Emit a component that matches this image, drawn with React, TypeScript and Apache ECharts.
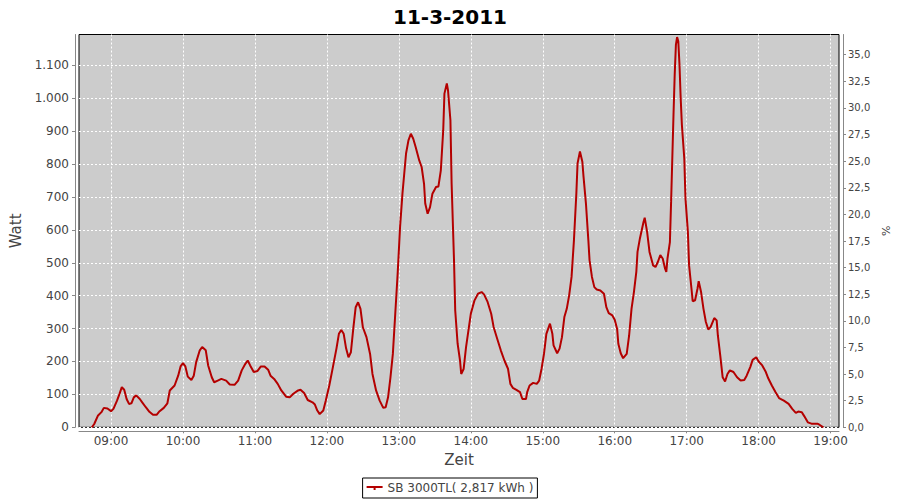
import React, { useEffect, useRef } from "react";
import * as echarts from "echarts";

const chartTitle = "11-3-2011";
const seriesName = "SB 3000TL( 2,817 kWh )";

const times = [
  "08:44", "08:46", "08:49", "08:52", "08:54", "08:57", "09:00", "09:02", "09:05", "09:07",
  "09:09", "09:11", "09:13", "09:15", "09:17", "09:19", "09:21", "09:24", "09:26", "09:29",
  "09:32", "09:35", "09:38", "09:40", "09:44", "09:47", "09:49", "09:53", "09:56", "09:58",
  "10:00", "10:02", "10:04", "10:07", "10:09", "10:11", "10:14", "10:16", "10:19", "10:21",
  "10:24", "10:26", "10:29", "10:32", "10:36", "10:39", "10:43", "10:46", "10:49", "10:52",
  "10:54", "10:56", "10:59", "11:02", "11:05", "11:08", "11:11", "11:13", "11:16", "11:19",
  "11:22", "11:26", "11:29", "11:32", "11:36", "11:38", "11:41", "11:44", "11:48", "11:50",
  "11:52", "11:54", "11:57", "11:59", "12:02", "12:05", "12:08", "12:10", "12:12", "12:14",
  "12:16", "12:18", "12:20", "12:22", "12:24", "12:26", "12:28", "12:30", "12:33", "12:36",
  "12:38", "12:41", "12:44", "12:47", "12:49", "12:51", "12:53", "12:55", "12:57", "12:59",
  "13:01", "13:03", "13:06", "13:08", "13:10", "13:12", "13:14", "13:17", "13:19", "13:21",
  "13:22", "13:24", "13:26", "13:28", "13:31", "13:33", "13:35", "13:37", "13:38", "13:40",
  "13:41", "13:43", "13:44", "13:46", "13:47", "13:49", "13:51", "13:52", "13:54", "13:56",
  "13:58", "14:00", "14:03", "14:06", "14:09", "14:11", "14:14", "14:17", "14:19", "14:22",
  "14:25", "14:28", "14:31", "14:33", "14:35", "14:38", "14:41", "14:43", "14:46", "14:47",
  "14:49", "14:52", "14:55", "14:57", "14:59", "15:01", "15:03", "15:06", "15:08", "15:09",
  "15:12", "15:14", "15:16", "15:18", "15:20", "15:22", "15:24", "15:26", "15:28", "15:29",
  "15:31", "15:33", "15:34", "15:36", "15:38", "15:39", "15:41", "15:43", "15:45", "15:48",
  "15:51", "15:53", "15:55", "15:58", "16:00", "16:02", "16:03", "16:05", "16:07", "16:10",
  "16:12", "16:14", "16:16", "16:18", "16:19", "16:21", "16:24", "16:25", "16:27", "16:29",
  "16:32", "16:34", "16:36", "16:38", "16:40", "16:42", "16:43", "16:44", "16:46", "16:47",
  "16:48", "16:49", "16:50", "16:51", "16:52", "16:53", "16:54", "16:55", "16:56", "16:58",
  "16:59", "17:01", "17:02", "17:04", "17:05", "17:07", "17:09", "17:10", "17:12", "17:14",
  "17:16", "17:18", "17:20", "17:23", "17:25", "17:26", "17:28", "17:30", "17:32", "17:34",
  "17:36", "17:39", "17:42", "17:45", "17:48", "17:50", "17:53", "17:55", "17:58", "18:00",
  "18:03", "18:06", "18:08", "18:11", "18:14", "18:17", "18:21", "18:25", "18:28", "18:31",
  "18:33", "18:36", "18:38", "18:41", "18:44", "18:49", "18:51", "18:54",
];

const watts = [
  0, 10, 35, 46, 59, 57, 49, 56, 81, 101,
  122, 114, 86, 71, 73, 91, 97, 86, 76, 61,
  47, 38, 38, 47, 59, 73, 112, 127, 157, 185,
  195, 185, 154, 144, 157, 198, 234, 244, 234, 188,
  152, 137, 142, 147, 142, 130, 129, 142, 173, 193,
  203, 188, 168, 171, 185, 185, 175, 157, 147, 132,
  112, 93, 91, 102, 112, 114, 104, 83, 76, 69,
  51, 40, 51, 80, 127, 183, 240, 284, 296, 284,
  240, 213, 228, 300, 365, 380, 360, 304, 274, 223,
  162, 112, 81, 59, 61, 91, 152, 223, 345, 467,
  608, 710, 832, 872, 892, 877, 852, 811, 791, 740,
  680, 649, 669, 710, 730, 732, 781, 903, 1014, 1045,
  1024, 933, 740, 507, 355, 254, 203, 162, 177, 243,
  294, 345, 385, 406, 411, 404, 381, 345, 305, 269,
  234, 203, 178, 132, 120, 114, 107, 86, 86, 107,
  127, 135, 132, 142, 178, 223, 284, 315, 284, 249,
  225, 239, 274, 335, 360, 401, 457, 569, 711, 802,
  838, 807, 761, 680, 569, 508, 457, 426, 419, 416,
  406, 365, 347, 340, 327, 299, 254, 225, 210, 223,
  279, 360, 411, 472, 533, 574, 624, 637, 594, 533,
  492, 487, 503, 523, 513, 482, 472, 513, 563, 685,
  817, 949, 1071, 1162, 1186, 1173, 1102, 1000, 919, 817,
  695, 594, 492, 421, 383, 386, 421, 444, 411, 360,
  320, 297, 305, 332, 325, 279, 218, 152, 139, 162,
  173, 168, 152, 142, 144, 157, 183, 205, 213, 200,
  188, 168, 149, 127, 107, 89, 81, 71, 56, 44,
  48, 46, 34, 15, 11, 11, 7, 0,
];

const timeTicks = ["09:00", "10:00", "11:00", "12:00", "13:00", "14:00", "15:00", "16:00", "17:00", "18:00", "19:00"];
const wattTicks = [0, 100, 200, 300, 400, 500, 600, 700, 800, 900, 1000, 1100];
const percentTicks = [0, 2.5, 5, 7.5, 10, 12.5, 15, 17.5, 20, 22.5, 25, 27.5, 30, 32.5, 35];

const toMin = (s: string) => {
  const [h, m] = s.split(":").map(Number);
  return h * 60 + m;
};
const fmtTime = (v: number) => {
  const h = Math.floor(v / 60);
  const m = Math.round(v - h * 60);
  return `${String(h).padStart(2, "0")}:${String(m).padStart(2, "0")}`;
};
const fmtWatt = (v: number) => {
  if (v >= 1000) {
    const th = Math.floor(v / 1000);
    const rest = String(Math.round(v - th * 1000)).padStart(3, "0");
    return `${th}.${rest}`;
  }
  return String(v);
};
const fmtPct = (v: number) => v.toFixed(1).replace(".", ",");

const FONT = "DejaVu Sans";
const LINE_RED = "#b40000";

export default function App() {
  const ref = useRef<HTMLDivElement>(null);
  useEffect(() => {
    if (!ref.current) return;
    const chart = echarts.init(ref.current, null, { renderer: "svg" });
    const xTickVals = timeTicks.map(toMin);
    chart.setOption({
      animation: false,
      backgroundColor: "#ffffff",
      textStyle: { fontFamily: FONT },
      title: {
        text: chartTitle,
        left: "center",
        top: 2,
        textStyle: { fontSize: 20, fontWeight: "bold", color: "#000", fontFamily: FONT },
      },
      legend: {
        data: [{ name: seriesName, icon: "path://M0,0 H16 V2 H0 Z M7,2 H9 V4 H7 Z" }],
        left: "center",
        bottom: 2,
        borderColor: "#000",
        borderWidth: 1,
        padding: [4, 4],
        itemWidth: 16,
        itemHeight: 4,
        itemGap: 5,
        textStyle: { fontSize: 12, color: "#444", fontFamily: FONT },
      },
      grid: {
        left: 79,
        right: 61,
        top: 34.5,
        bottom: 72.7,
        show: true,
        backgroundColor: "#cccccc",
        borderColor: "#000",
        borderWidth: 1,
        containLabel: false,
        outerBoundsMode: "none",
      },
      xAxis: {
        type: "value",
        min: 513.3,
        max: 1147,
        offset: 4,
        name: "Zeit",
        nameLocation: "middle",
        nameGap: 21,
        nameTextStyle: { fontSize: 15, color: "#444", fontFamily: FONT },
        axisLine: { show: true, onZero: false, lineStyle: { color: "#888", width: 1 } },
        axisTick: { show: true, length: 2, customValues: xTickVals, lineStyle: { color: "#888" } },
        axisLabel: { customValues: xTickVals, formatter: fmtTime, fontSize: 12, color: "#444", margin: 4, fontFamily: FONT },
        splitLine: { show: true, lineStyle: { color: "#ffffff", type: [2, 2], width: 1 } },
      },
      yAxis: [
        {
          type: "value",
          position: "left",
          min: 0,
          max: 1193.7,
          offset: 4,
          name: "Watt",
          nameLocation: "middle",
          nameGap: 42,
          nameTextStyle: { fontSize: 15, color: "#444", fontFamily: FONT },
          axisLine: { show: true, onZero: false, lineStyle: { color: "#888", width: 1 } },
          axisTick: { show: true, length: 3, customValues: wattTicks, lineStyle: { color: "#888" } },
          axisLabel: { customValues: wattTicks, formatter: fmtWatt, fontSize: 12, color: "#444", margin: 6, fontFamily: FONT },
          splitLine: { show: true, lineStyle: { color: "#ffffff", type: [2, 2], width: 1 } },
        },
        {
          type: "value",
          position: "right",
          min: 0,
          max: 36.9,
          offset: 4,
          name: "%",
          nameLocation: "middle",
          nameGap: 26,
          nameTextStyle: { fontSize: 11, color: "#444", fontFamily: FONT },
          axisLine: { show: true, onZero: false, lineStyle: { color: "#888", width: 1 } },
          axisTick: { show: true, length: 3, customValues: percentTicks, lineStyle: { color: "#888" } },
          axisLabel: { customValues: percentTicks, formatter: fmtPct, fontSize: 10, color: "#444", margin: 5, fontFamily: FONT },
          splitLine: { show: false },
        },
      ],
      series: [
        {
          type: "line",
          name: seriesName,
          yAxisIndex: 0,
          data: times.map((t, i) => [toMin(t), watts[i]]),
          showSymbol: false,
          symbol: "none",
          lineStyle: { color: LINE_RED, width: 2 },
          itemStyle: { color: LINE_RED },
        },
      ],
    });
    return () => chart.dispose();
  }, []);
  return <div ref={ref} style={{ position: "fixed", left: 0, top: 0, width: 900, height: 500 }} />;
}
